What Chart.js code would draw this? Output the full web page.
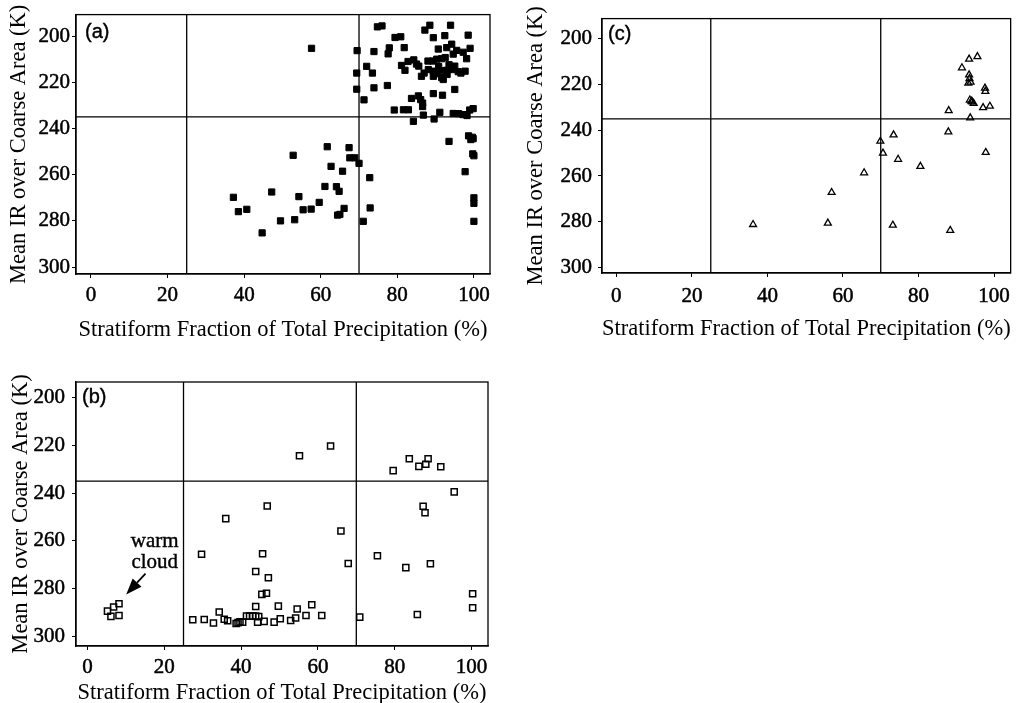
<!DOCTYPE html>
<html><head><meta charset="utf-8">
<script src="https://cdn.jsdelivr.net/npm/chart.js@4.4.1/dist/chart.umd.min.js"></script>
<style>
html,body{margin:0;padding:0;background:#fff;width:1017px;height:703px;overflow:hidden;}
canvas{position:absolute;}
</style></head><body>
<canvas id="ca" width="500" height="345" style="left:0;top:0"></canvas>
<canvas id="cc" width="497" height="350" style="left:520px;top:0"></canvas>
<canvas id="cb" width="500" height="344" style="left:0;top:360px"></canvas>
<script>
// ---- tick labels and titles ----
const xTicks = [0, 20, 40, 60, 80, 100];
const yTicks = [200, 220, 240, 260, 280, 300];
const xTitle = 'Stratiform Fraction of Total Precipitation (%)';
const yTitle = 'Mean IR over Coarse Area (K)';
const xDividers = [25, 70];
const yDividers = [235];

// ---- panel (a): filled squares ----
const aX = [37.2,38.5,40.7,44.7,47.2,49.5,52.8,53.2,54.3,55.4,57.5,59.6,61.1,61.7,62.7,64.1,64.8,64.4,65,65.7,66.1,67.4,67.6,68.9,70,71.1,72.8,72.9,
  93.5,97.7,98.6,99.6,99.2,99.8,99.7,100,100,100,100,
  57.6,69.5,69.4,69.4,71.3,72,73.5,73.9,73.9,74.8,76,77.4,77.9,77.6,79.4,80.9,81.8,79.2,81.6,82.9,83.7,84.2,85.5,86.1,86.6,86.6,86.8,89.6,91.1,89.4,91.8,95,94.6,96,97.2,98.2,98.9,99.8,
  88.5,87.2,93.9,89.4,92.4,98.5,
  90.7,92.9,94.2,95.5,97.2,99,98.1,94.6,91.6,92.5,
  81.1,82.8,84.3,85,82,86.3,88,89.3,90.3,
  88.1,89.4,90.3,91.6,92.9,94.2,95.9,97.7,89.4,91.6,92,93,90.8,93.5,85.6,87,96.6,95];
const aY = [269.8,276,275,285.2,267.5,280,251.6,279.5,269.5,275.2,274.9,272,265.1,247.9,256.4,265.2,267.2,277.5,277.2,258.5,274.6,248.3,252.7,252.7,255.1,280.2,261.3,274.4,
  245.6,258.7,243.2,243.8,244.8,244.4,251,251.8,270,272.4,280.2,
  205.3,206.3,216,223,227.6,213.1,216,206.7,222.4,196,195.6,221.4,205.1,207.7,200.6,200.3,205,232,231.9,231.9,227,236.9,225.9,227.5,229,230.5,234.2,235.9,233,224.9,225.6,223.1,233.5,233.6,234,234.4,232,231.4,
  195.3,197.4,195.3,200.7,199.8,199.6,
  205.6,205,203.5,206.2,207,205.3,209.8,207.8,209.8,209.3,
  212.7,211,210.3,212.1,214.8,217.4,210.8,210.8,210,
  214.5,215.2,216.3,215,214.8,214.5,215.4,215.2,217.4,218,218.8,216.6,213.2,212.4,213,216,216,213];

// ---- panel (b): open squares ----
const bX = [5.2,6.1,6.8,8.2,8.2,
  27.4,30.4,29.7,32.8,34.3,35.6,36.5,36,38.7,39.2,39.7,40.4,41.4,42.2,43,43.8,44.6,43.8,43.8,44.3,45.6,45.4,46.6,46.8,47.1,46,48.6,49.7,50.2,52.9,54.2,54.6,55.2,56.9,58.4,61,63.3,66,67.9,70.9,
  75.5,79.6,82.9,83.8,86.3,85.9,87.4,87.9,88.1,88.7,89.3,92,95.5,100.3,100.3];
const bY = [289.4,291.6,287.7,286.3,291.2,
  293,292.9,265.6,294.4,289.8,292.8,293.4,250.7,294.6,294.2,293.9,294,291.5,291.5,291.5,291.5,291.7,287.5,272.8,294,265.4,282.4,281.9,245.4,275.4,293.7,294,287.3,292.6,293.3,292.3,288.5,224.4,291.2,286.7,291.2,220.3,255.9,269.5,291.9,
  266.2,230.6,271.2,225.6,228.8,290.8,245.5,248.2,227.9,225.6,269.6,229,239.5,282.1,288];

// ---- panel (c): open triangles ----
const cX = [36.2,56,57,65.6,69.9,70.6,73.4,73.2,74.6,80.5,88,87.9,88.4,91.5,93.4,95.6,93.4,93.5,93.8,93.2,93.7,93.6,94,94.6,94.2,97.6,97.7,97.1,98.9,97.8];
const cY = [281.2,280.6,267.2,258.6,244.8,250,242,281.5,252.7,255.8,231.4,240.7,283.8,212.7,208.9,207.8,215.8,217.4,219,219.4,234.6,226.8,227.3,228.2,227.6,221.6,223,230.1,229.5,249.7];

// ---- annotation in panel (b) ----
const noteLines = ['warm', 'cloud'];
const noteX = 17.5;
const noteY = [262.7, 271.5];
const arrowFrom = [15.1, 273.7];
const arrowTo = [10.07, 282.4];

const SERIF = "'Liberation Serif','Times New Roman',serif";
const SANS = "'Liberation Sans',Arial,sans-serif";

const framePlugin = {
  id: 'frame',
  beforeDatasetsDraw(chart, args, o) {
    const {ctx, chartArea: ca, scales: {x, y}} = chart;
    ctx.save();
    ctx.strokeStyle = '#000';
    ctx.lineWidth = 1.3;
    ctx.strokeRect(ca.left, ca.top, ca.right - ca.left, ca.bottom - ca.top);
    ctx.beginPath();
    xDividers.forEach(v => { const p = x.getPixelForValue(v); ctx.moveTo(p, ca.top); ctx.lineTo(p, ca.bottom); });
    yDividers.forEach(v => { const p = y.getPixelForValue(v); ctx.moveTo(ca.left, p); ctx.lineTo(ca.right, p); });
    ctx.stroke();
    ctx.fillStyle = '#000';
    ctx.font = `20px ${SANS}`;
    ctx.textBaseline = 'middle';
    ctx.textAlign = 'left';
    ctx.lineWidth = 0.4;
    ctx.fillText(o.label, ca.left + o.lx, ca.top + o.ly);
    ctx.strokeText(o.label, ca.left + o.lx, ca.top + o.ly);
    if (o.note) {
      ctx.font = `21px ${SERIF}`;
      ctx.textAlign = 'center';
      ctx.textBaseline = 'alphabetic';
      noteLines.forEach((t, i) => {
        const px = x.getPixelForValue(noteX), py = y.getPixelForValue(noteY[i]);
        ctx.fillText(t, px, py);
        ctx.strokeText(t, px, py);
      });
      const x0 = x.getPixelForValue(arrowFrom[0]), y0 = y.getPixelForValue(arrowFrom[1]);
      const x1 = x.getPixelForValue(arrowTo[0]), y1 = y.getPixelForValue(arrowTo[1]);
      const ang = Math.atan2(y1 - y0, x1 - x0);
      const hl = 16, hw = 6;
      const bx = x1 - hl * Math.cos(ang), by = y1 - hl * Math.sin(ang);
      ctx.lineWidth = 1.8;
      ctx.beginPath(); ctx.moveTo(x0, y0); ctx.lineTo(bx, by); ctx.stroke();
      ctx.beginPath();
      ctx.moveTo(x1, y1);
      ctx.lineTo(bx + hw * Math.sin(ang), by - hw * Math.cos(ang));
      ctx.lineTo(bx - hw * Math.sin(ang), by + hw * Math.cos(ang));
      ctx.closePath(); ctx.fill();
    }
    ctx.restore();
  }
};

function makeChart(id, xs, ys, c) {
  const pts = xs.map((v, i) => ({x: v, y: ys[i]}));
  return new Chart(document.getElementById(id), {
    type: 'scatter',
    data: {datasets: [{
      data: pts,
      pointStyle: c.style,
      pointRadius: c.r,
      pointHoverRadius: c.r,
      pointBackgroundColor: c.fill,
      pointBorderColor: '#000',
      pointBorderWidth: c.bw
    }]},
    options: {
      responsive: false,
      animation: false,
      devicePixelRatio: 1,
      layout: {padding: c.pad},
      plugins: {legend: {display: false}, tooltip: {enabled: false}, frame: c.frame},
      scales: {
        x: {
          type: 'linear', min: c.xmin, max: c.xmax,
          afterBuildTicks: s => { s.ticks = xTicks.map(v => ({value: v})); },
          afterFit: s => { s.height = c.xh; },
          grid: {drawOnChartArea: false, drawTicks: true, tickLength: 4, color: '#000', lineWidth: 1},
          border: {display: true, color: '#000', width: 1.3},
          ticks: {color: '#000', font: {family: SERIF, size: 21}, padding: c.xtp, maxRotation: 0, textStrokeColor: '#000', textStrokeWidth: 0.5},
          title: {display: true, text: xTitle, color: '#000', font: {family: SERIF, size: 22.5, lineHeight: 1}, padding: {top: 0, bottom: c.xtitle}}
        },
        y: {
          type: 'linear', reverse: true, min: c.ymin, max: c.ymax,
          afterBuildTicks: s => { s.ticks = yTicks.map(v => ({value: v})); },
          afterFit: s => { s.width = c.yw; },
          grid: {drawOnChartArea: false, drawTicks: true, tickLength: 4, color: '#000', lineWidth: 1},
          border: {display: true, color: '#000', width: 1.3},
          ticks: {color: '#000', font: {family: SERIF, size: 21}, padding: c.ytp, textStrokeColor: '#000', textStrokeWidth: 0.5},
          title: {display: true, text: yTitle, color: '#000', font: {family: SERIF, size: 22.5, lineHeight: 1}, padding: {top: c.ytitle, bottom: 0}}
        }
      }
    },
    plugins: [framePlugin]
  });
}

makeChart('ca', aX, aY, {
  style: 'rect', r: 4.4, fill: '#000', bw: 1,
  pad: {top: 11, right: 10, left: 0, bottom: 0},
  xmin: -3.9, xmax: 104.2, ymin: 190.7, ymax: 303,
  xh: 71, yw: 76, xtp: 5, ytp: 2, xtitle: 4, ytitle: 8,
  frame: {label: '(a)', lx: 9, ly: 18}
});
makeChart('cc', cX, cY, {
  style: 'triangle', r: 4, fill: 'rgba(0,0,0,0)', bw: 1.3,
  pad: {top: 11, right: 4, left: 0, bottom: 0},
  xmin: -3.8, xmax: 104.4, ymin: 191.2, ymax: 302.4,
  xh: 77, yw: 82, xtp: 7, ytp: 6, xtitle: 10, ytitle: 5,
  frame: {label: '(c)', lx: 6, ly: 15.5}
});
makeChart('cb', bX, bY, {
  style: 'rect', r: 4.3, fill: 'rgba(0,0,0,0)', bw: 1.5,
  pad: {top: 22, right: 12, left: 0, bottom: 0},
  xmin: -3.0, xmax: 104.3, ymin: 193.5, ymax: 304,
  xh: 58, yw: 76, xtp: 5, ytp: 7, xtitle: 0, ytitle: 10,
  frame: {label: '(b)', lx: 6, ly: 15.5, note: true}
});
</script>
</body></html>
